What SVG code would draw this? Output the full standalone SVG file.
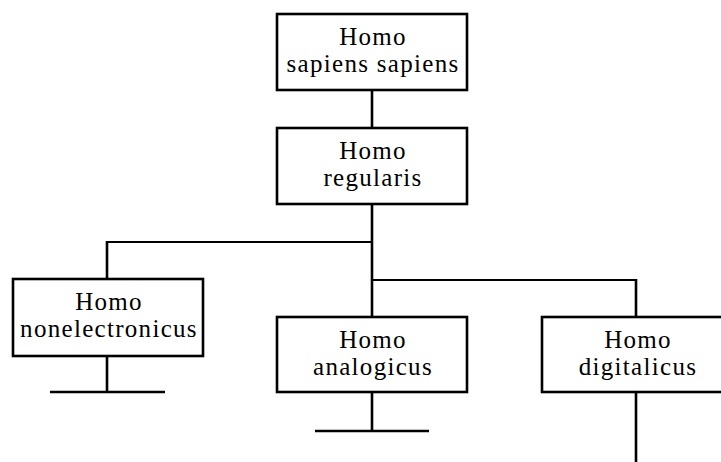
<svg xmlns="http://www.w3.org/2000/svg" width="721" height="462" viewBox="0 0 721 462">
<style>
.box{fill:#fff;stroke:#000;stroke-width:2.6}
.c{fill:none;stroke:#000;stroke-width:2.6}
.h{fill:none;stroke:#000;stroke-width:2}
text{font-family:"Liberation Serif","Times New Roman",serif;font-size:25px;letter-spacing:1.3px;text-anchor:middle;fill:#000}
</style>
<rect width="721" height="462" fill="#fff"/>
<g id="connectors">
<line class="c" x1="372" y1="90" x2="372" y2="128"/>
<line class="c" x1="372" y1="204" x2="372" y2="317"/>
<line class="h" x1="107" y1="242" x2="372" y2="242"/>
<line class="c" x1="107" y1="241" x2="107" y2="279"/>
<line class="h" x1="372" y1="280" x2="636" y2="280"/>
<line class="c" x1="636" y1="279" x2="636" y2="317"/>
<line class="c" x1="107" y1="356" x2="107" y2="392"/>
<line class="c" x1="50" y1="392" x2="165" y2="392"/>
<line class="c" x1="372" y1="392" x2="372" y2="431"/>
<line class="c" x1="315" y1="431" x2="429" y2="431"/>
<line class="c" x1="636" y1="392" x2="636" y2="462"/>
</g>
<g id="sapiens">
<rect class="box" x="277" y="14" width="190" height="76"/>
<text x="373" y="45">Homo</text>
<text x="373" y="72">sapiens sapiens</text>
</g>
<g id="regularis">
<rect class="box" x="277" y="128" width="190" height="76"/>
<text x="373" y="159">Homo</text>
<text x="373" y="186">regularis</text>
</g>
<g id="nonelectronicus">
<rect class="box" x="13" y="279" width="190" height="77"/>
<text x="109" y="310">Homo</text>
<text x="109" y="337">nonelectronicus</text>
</g>
<g id="analogicus">
<rect class="box" x="277" y="317" width="190" height="75"/>
<text x="373" y="348">Homo</text>
<text x="373" y="375">analogicus</text>
</g>
<g id="digitalicus">
<rect class="box" x="542" y="317" width="190" height="75"/>
<text x="638" y="348">Homo</text>
<text x="638" y="375">digitalicus</text>
</g>
</svg>
